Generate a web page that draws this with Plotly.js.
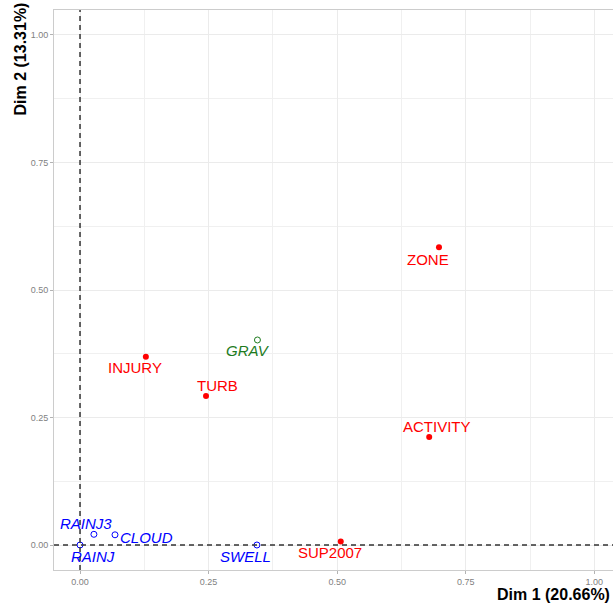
<!DOCTYPE html>
<html><head><meta charset="utf-8">
<script src="https://cdn.plot.ly/plotly-3.0.1.min.js"></script>
<style>html,body{margin:0;padding:0;overflow:hidden;width:613px;height:605px;background:#fff}#chart{width:620px;height:605px}</style>
</head><body><div id="chart"></div>
<script>
// Active variables (red)
const activeNames = ['ZONE','ACTIVITY','SUP2007','INJURY','TURB'];
const activeX = [0.698, 0.679, 0.507, 0.128, 0.245];
const activeY = [0.584, 0.212, 0.007, 0.369, 0.292];
// Supplementary variables (blue)
const supBlueNames = ['SWELL','RAINJ3','CLOUD','RAINJ'];
const supBlueX = [0.344, 0.027, 0.068, 0.000];
const supBlueY = [0.000, 0.021, 0.020, 0.000];
// Supplementary variable (green)
const supGreenNames = ['GRAV'];
const supGreenX = [0.345];
const supGreenY = [0.402];
// Axis labels
const xTitle = 'Dim 1 (20.66%)';
const yTitle = 'Dim 2 (13.31%)';
const tickVals = [0, 0.25, 0.5, 0.75, 1];
const tickText = ['0.00','0.25','0.50','0.75','1.00'];

// label offsets (pixels) – layout only
const activeOff = [[-11,-12],[8,10],[-11,-11],[-11,-11],[11,11]];
const blueOff = [[-11,-11],[-8,11],[32,-3],[13,-11]];
const greenOff = [[-9,-11]];

const FONT = 'Liberation Sans, Arial, sans-serif';
const traces = [
  {type:'scatter', mode:'markers', x:activeX, y:activeY, hoverinfo:'text', text:activeNames,
   marker:{color:'#FF0000', size:6}},
  {type:'scatter', mode:'markers', x:supBlueX, y:supBlueY, hoverinfo:'text', text:supBlueNames,
   marker:{color:'#0000FF', size:6, symbol:'circle-open', line:{color:'#0000FF', width:1}}},
  {type:'scatter', mode:'markers', x:supGreenX, y:supGreenY, hoverinfo:'text', text:supGreenNames,
   marker:{color:'#1E7B1E', size:6, symbol:'circle-open', line:{color:'#1E7B1E', width:1}}}
];

const annotations = [];
function addLabels(names, xs, ys, offs, color, italic){
  names.forEach((n,i)=>{
    annotations.push({x:xs[i], y:ys[i], xref:'x', yref:'y', text: italic?'<i>'+n+'</i>':n,
      showarrow:false, xshift:offs[i][0], yshift:offs[i][1],
      font:{family:FONT, size:15, color:color}});
  });
}
addLabels(activeNames, activeX, activeY, activeOff, '#FF0000', false);
addLabels(supBlueNames, supBlueX, supBlueY, blueOff, '#0000FF', true);
addLabels(supGreenNames, supGreenX, supGreenY, greenOff, '#1E7B1E', true);

annotations.push({xref:'paper', yref:'paper', x:0.9858, y:0, xanchor:'right', yanchor:'middle', yshift:-24,
  text:'<b>'+xTitle+'</b>', showarrow:false, font:{family:FONT, size:16, color:'#000'}});
annotations.push({xref:'paper', yref:'paper', x:0, y:1, xanchor:'center', yanchor:'top', xshift:-34, yshift:9,
  textangle:-90, text:'<b>'+yTitle+'</b>', showarrow:false, font:{family:FONT, size:16, color:'#000'}});

const axisCommon = {
  showgrid:true, gridcolor:'#EBEBEB', gridwidth:1,
  minor:{dtick:0.125, showgrid:true, gridcolor:'#F0F0F0', gridwidth:1, ticks:''},
  zeroline:false, showline:true, linecolor:'#CCCCCC', linewidth:1, mirror:true,
  ticks:'outside', ticklen:3, tickcolor:'#B3B3B3', tickwidth:1,
  tickvals:tickVals, ticktext:tickText,
  tickfont:{family:FONT, size:9, color:'#7F7F7F'}
};

const layout = {
  width:620, height:605,
  margin:{l:54, r:0, t:10, b:35},
  paper_bgcolor:'#fff', plot_bgcolor:'#fff',
  showlegend:false,
  xaxis: Object.assign({}, axisCommon, {range:[-0.0506, 1.05]}),
  yaxis: Object.assign({}, axisCommon, {range:[-0.049, 1.049]}),
  shapes:[
    {type:'line', xref:'x', yref:'paper', x0:0, x1:0, y0:0, y1:1, line:{color:'#333', width:1.5, dash:'5px,4px'}},
    {type:'line', xref:'paper', yref:'y', x0:0, x1:1, y0:0, y1:0, line:{color:'#333', width:1.5, dash:'5px,4px'}}
  ],
  annotations:annotations
};
Plotly.newPlot('chart', traces, layout, {displayModeBar:false, staticPlot:true});
</script></body></html>
